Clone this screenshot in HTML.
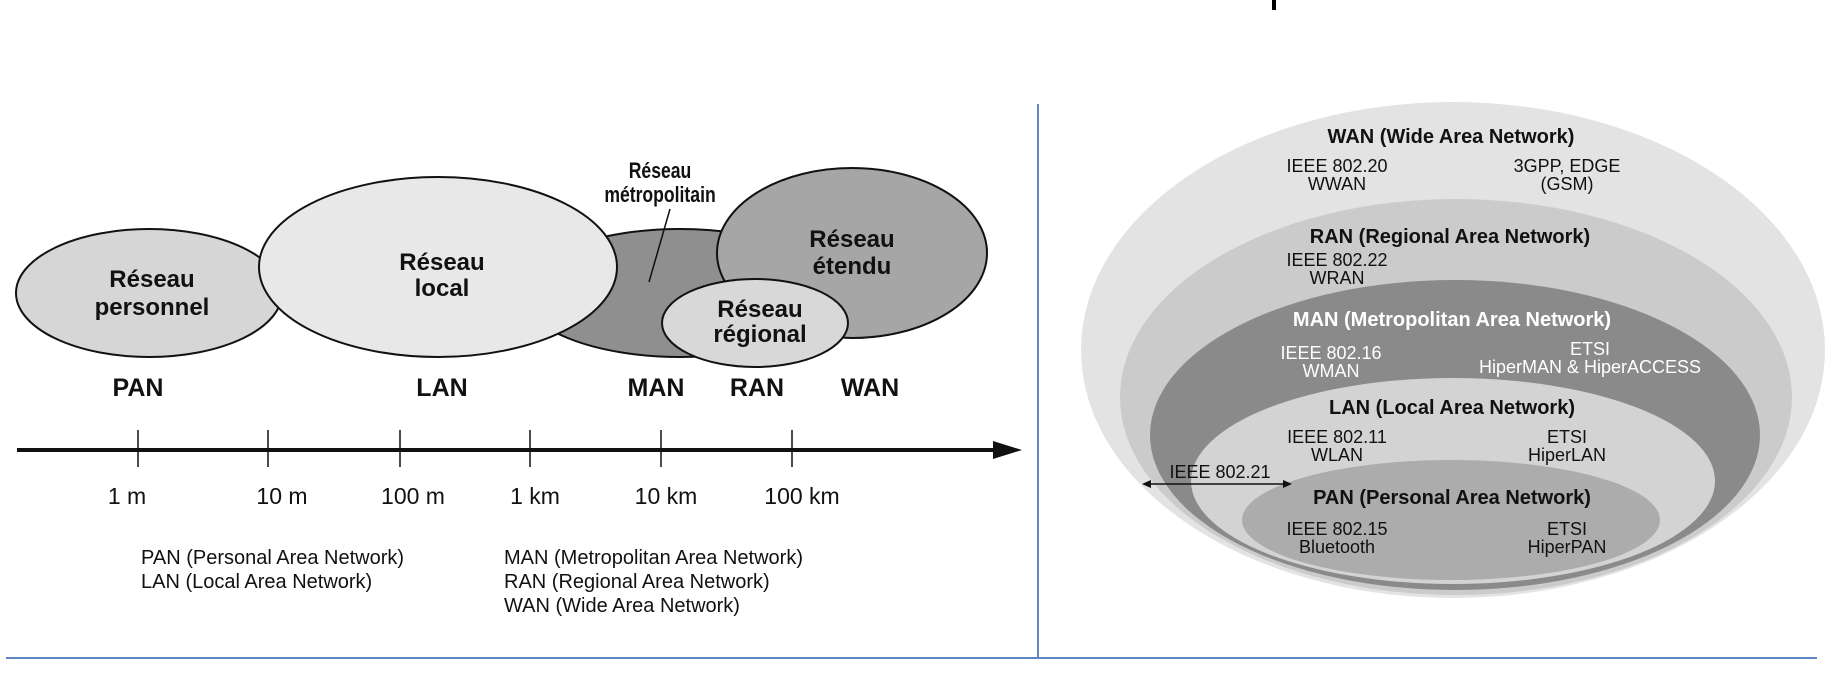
<!DOCTYPE html>
<html><head><meta charset="utf-8"><style>
html,body{margin:0;padding:0;background:#fff;}
svg{display:block;}
.b{font-family:"Liberation Sans",sans-serif;font-weight:bold;}
.r{font-family:"Liberation Sans",sans-serif;}
</style></head><body>
<svg width="1844" height="700" viewBox="0 0 1844 700" xmlns="http://www.w3.org/2000/svg">
<rect width="1844" height="700" fill="#fff"/>
<rect x="1272" y="0" width="4" height="10" fill="#000"/>
<line x1="1038" y1="104" x2="1038" y2="658" stroke="#5b87c5" stroke-width="2"/>
<line x1="6" y1="658" x2="1817" y2="658" stroke="#5b87c5" stroke-width="2"/>

<g stroke="#111" stroke-width="2">
<ellipse cx="149" cy="293" rx="133" ry="64" fill="#d6d6d6"/>
<ellipse cx="680" cy="293" rx="158" ry="64" fill="#8f8f8f"/>
<ellipse cx="852" cy="253" rx="135" ry="85" fill="#a6a6a6"/>
<ellipse cx="438" cy="267" rx="179" ry="90" fill="#e8e8e8"/>
<ellipse cx="755" cy="323" rx="93" ry="44" fill="#d8d8d8"/>
</g>
<line x1="670" y1="209" x2="649" y2="282" stroke="#111" stroke-width="1.5"/>
<g class="b" font-size="24" text-anchor="middle" fill="#111">
<text x="152" y="287">Réseau</text><text x="152" y="315">personnel</text>
<text x="442" y="270">Réseau</text><text x="442" y="296">local</text>
<text x="852" y="247">Réseau</text><text x="852" y="274">étendu</text>
<text x="760" y="317">Réseau</text><text x="760" y="342">régional</text>
</g>
<g class="b" font-size="22" text-anchor="middle" fill="#111">
<text transform="translate(660,178) scale(0.8,1)">Réseau</text>
<text transform="translate(660,202) scale(0.8,1)">métropolitain</text>
</g>
<g class="b" font-size="25" text-anchor="middle" fill="#111">
<text x="138" y="396">PAN</text><text x="442" y="396">LAN</text>
<text x="656" y="396">MAN</text><text x="757" y="396">RAN</text><text x="870" y="396">WAN</text>
</g>
<line x1="17" y1="450" x2="995" y2="450" stroke="#111" stroke-width="4"/>
<polygon points="993,441 1022,450 993,459" fill="#111"/>
<g stroke="#111" stroke-width="1.5">
<line x1="138" y1="430" x2="138" y2="467"/><line x1="268" y1="430" x2="268" y2="467"/>
<line x1="400" y1="430" x2="400" y2="467"/><line x1="530" y1="430" x2="530" y2="467"/>
<line x1="661" y1="430" x2="661" y2="467"/><line x1="792" y1="430" x2="792" y2="467"/>
</g>
<g class="r" font-size="23" text-anchor="middle" fill="#111">
<text x="127" y="504">1 m</text><text x="282" y="504">10 m</text><text x="413" y="504">100 m</text>
<text x="535" y="504">1 km</text><text x="666" y="504">10 km</text><text x="802" y="504">100 km</text>
</g>
<g class="r" font-size="20" fill="#111">
<text x="141" y="564">PAN (Personal Area Network)</text>
<text x="141" y="588">LAN (Local Area Network)</text>
<text x="504" y="564">MAN (Metropolitan Area Network)</text>
<text x="504" y="588">RAN (Regional Area Network)</text>
<text x="504" y="612">WAN (Wide Area Network)</text>
</g>

<ellipse cx="1453" cy="350" rx="372" ry="248" fill="#e3e3e3"/>
<ellipse cx="1456" cy="397" rx="336" ry="198" fill="#cbcbcb"/>
<ellipse cx="1455" cy="435" rx="305" ry="155" fill="#8a8a8a"/>
<ellipse cx="1453" cy="481" rx="262" ry="103" fill="#d3d3d3"/>
<ellipse cx="1451" cy="520" rx="209" ry="60" fill="#acacac"/>
<g class="b" font-size="20" text-anchor="middle" fill="#111">
<text x="1451" y="143">WAN (Wide Area Network)</text>
<text x="1450" y="243">RAN (Regional Area Network)</text>
<text x="1452" y="326" fill="#fff">MAN (Metropolitan Area Network)</text>
<text x="1452" y="414">LAN (Local Area Network)</text>
<text x="1452" y="504">PAN (Personal Area Network)</text>
</g>
<g class="r" font-size="18" text-anchor="middle" fill="#111">
<text x="1337" y="172">IEEE 802.20</text><text x="1337" y="190">WWAN</text>
<text x="1567" y="172">3GPP, EDGE</text><text x="1567" y="190">(GSM)</text>
<text x="1337" y="266">IEEE 802.22</text><text x="1337" y="284">WRAN</text>
<g fill="#fff">
<text x="1331" y="359">IEEE 802.16</text><text x="1331" y="377">WMAN</text>
<text x="1590" y="355">ETSI</text><text x="1590" y="373">HiperMAN &amp; HiperACCESS</text>
</g>
<text x="1337" y="443">IEEE 802.11</text><text x="1337" y="461">WLAN</text>
<text x="1567" y="443">ETSI</text><text x="1567" y="461">HiperLAN</text>
<text x="1220" y="478">IEEE 802.21</text>
<text x="1337" y="535">IEEE 802.15</text><text x="1337" y="553">Bluetooth</text>
<text x="1567" y="535">ETSI</text><text x="1567" y="553">HiperPAN</text>
</g>
<line x1="1148" y1="484" x2="1286" y2="484" stroke="#111" stroke-width="1.5"/>
<polygon points="1142,484 1151,480 1151,488" fill="#111"/>
<polygon points="1292,484 1283,480 1283,488" fill="#111"/>
</svg>
</body></html>
